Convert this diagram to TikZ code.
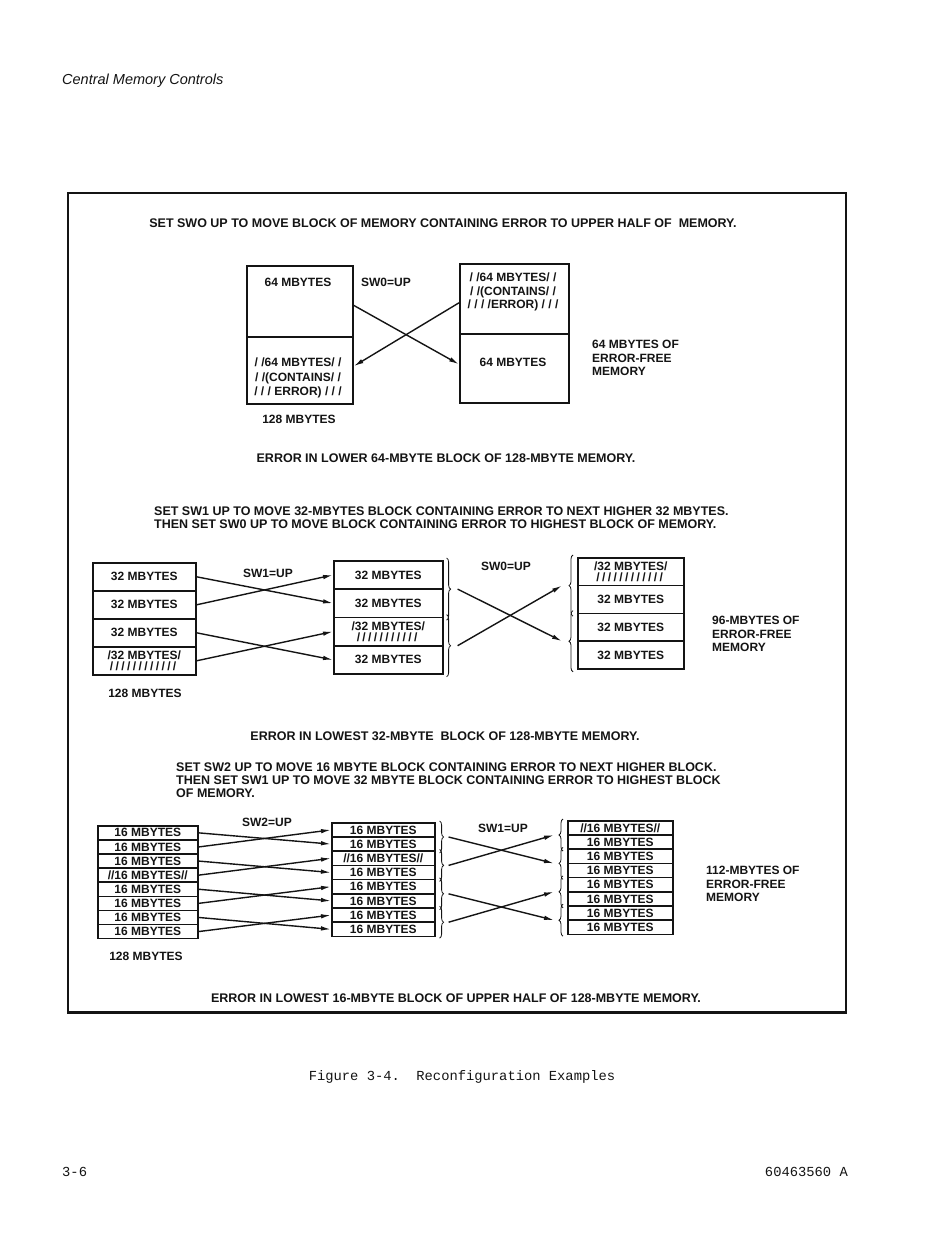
\documentclass[tikz,border=0pt]{standalone}
\usepackage{fontspec}
\setmainfont{Liberation Sans}
\newfontfamily\typefont{Liberation Mono}
\usetikzlibrary{arrows.meta,positioning,calc,decorations.pathreplacing}
\definecolor{ink}{HTML}{141414}
\definecolor{paper}{HTML}{FFFFFF}
\newcommand\hatch[1]{\foreach\n in {1,...,#1}{/\kern2.4pt}\unskip}

\tikzset{
  cell/.style={draw=ink,line width=1.6pt,anchor=north west,inner sep=0pt,
               text=ink,font=\bfseries\fontsize{12}{11.5}\selectfont,align=center},
  txt/.style={text=ink,inner sep=0pt,font=\bfseries\fontsize{12}{13.5}\selectfont,align=center},
  head/.style={txt,font=\bfseries\fontsize{12.5}{13}\selectfont},
  note/.style={txt,align=left,anchor=west},
  move/.style={draw=ink,line width=1.4pt,-{Latex[length=10pt,width=4.5pt]}},
  grp/.style={draw=ink,line width=0.8pt,decorate,decoration={brace,amplitude=4pt}},
}

\begin{document}
\begin{tikzpicture}[x=1pt,y=-1pt]
 \useasboundingbox[fill=paper] (0,0) rectangle (950,1236);

 % page head, frame, caption and foot
 \node[anchor=west,inner sep=0pt,text=ink,font=\itshape\fontsize{14.5}{16}\selectfont]
   (head) at (62,81) {Central Memory Controls};
 \node[draw=ink,line width=1.5pt,anchor=north west,inner sep=0pt,
       minimum width=778pt,minimum height=819pt] (frame) at (67,192) {};
 \draw[ink,line width=2.5pt] (frame.south west) -- (frame.south east);
 \node[inner sep=0pt,text=ink,font=\typefont\fontsize{13.8}{15}\selectfont]
   (cap) at (462,1077) {Figure 3-4.\ \ Reconfiguration Examples};
 \node[anchor=west,inner sep=0pt,text=ink,font=\typefont\fontsize{13.8}{15}\selectfont]
   (pgno) at (62,1172) {3-6};
 \node[anchor=east,inner sep=0pt,text=ink,font=\typefont\fontsize{13.8}{15}\selectfont]
   (docno) at (848,1172) {60463560 A};

 % --- 64-mbyte example
 \node[head] (t1) at (443,223) {SET SWO UP TO MOVE BLOCK OF MEMORY CONTAINING ERROR TO UPPER HALF OF\ \ MEMORY.};
 \node[cell,minimum width=106pt,minimum height=71pt] (ma1) at (246,265) {};
 \node[cell,minimum width=106pt,minimum height=67pt] (ma2) at (246,336) {};
 \node[cell,minimum width=109pt,minimum height=70pt] (mb1) at (459,263) {};
 \node[cell,minimum width=109pt,minimum height=69pt] (mb2) at (459,333) {};
 \node[txt] (ma1t) at (298,282) {64 MBYTES};
 \node[txt,font=\bfseries\fontsize{12}{14.5}\selectfont] (ma2t) at (298,378)
   {/ /64 MBYTES/ /\\/ /(CONTAINS/ /\\/ / / ERROR) / / /};
 \node[txt,font=\bfseries\fontsize{12}{13.5}\selectfont] (mb1t) at (513,292)
   {/ /64 MBYTES/ /\\/ /(CONTAINS/ /\\/ / / /ERROR) / / /};
 \node[txt] (mb2t) at (513,362) {64 MBYTES};
 \node[txt] (sw0a) at (386,282) {SW0=UP};
 \node[txt] (ma) at (299,419) {128 MBYTES};
 \node[note] (free1) at (592,358) {64 MBYTES OF\\ERROR-FREE\\MEMORY};
 \node[head] (e1) at (446,458) {ERROR IN LOWER 64-MBYTE BLOCK OF 128-MBYTE MEMORY.};
 \draw[move] ([yshift=-4pt]ma1.east) -- ([yshift=4pt]mb2.west);
 \draw[move] ([yshift=-4pt]mb1.west) -- ([yshift=4pt]ma2.east);

 % --- 32-mbyte example
 \node[head,anchor=north west,align=left] (t2) at (154,507)
   {SET SW1 UP TO MOVE 32-MBYTES BLOCK CONTAINING ERROR TO NEXT HIGHER 32 MBYTES.\\
    THEN SET SW0 UP TO MOVE BLOCK CONTAINING ERROR TO HIGHEST BLOCK OF MEMORY.};
 \foreach \t [count=\i] in {32 MBYTES,32 MBYTES,32 MBYTES,{/32 MBYTES/\\\hatch{12}}}
   \node[cell,minimum width=103pt,minimum height=28pt] (sa\i) at (92,{562+28*(\i-1)}) {\t};
 \foreach \t [count=\i] in {32 MBYTES,32 MBYTES,{/32 MBYTES/\\\hatch{11}},32 MBYTES}
   \node[cell,minimum width=109pt,minimum height=28.3pt] (sb\i) at (333,{560+28.3*(\i-1)}) {\t};
 \foreach \t [count=\i] in {{/32 MBYTES/\\\hatch{12}},32 MBYTES,32 MBYTES,32 MBYTES}
   \node[cell,minimum width=106pt,minimum height=27.8pt] (sc\i) at (577,{557+27.8*(\i-1)}) {\t};
 \node[txt] (sw1b) at (268,573) {SW1=UP};
 \node[txt] (sw0b) at (506,566) {SW0=UP};
 \node[txt] (sa) at (145,693) {128 MBYTES};
 \node[note] (free2) at (712,634) {96-MBYTES OF\\ERROR-FREE\\MEMORY};
 \node[head] (e2) at (445,736) {ERROR IN LOWEST 32-MBYTE\ \ BLOCK OF 128-MBYTE MEMORY.};
 \draw[move] (sa1.east) -- (sb2.west);
 \draw[move] (sa2.east) -- (sb1.west);
 \draw[move] (sa3.east) -- (sb4.west);
 \draw[move] (sa4.east) -- (sb3.west);
 \foreach \a/\b [count=\k] in {1/2,3/4}{
   \draw[grp] ([xshift=3pt,yshift=2pt]sb\a.north east) -- ([xshift=3pt,yshift=-2pt]sb\b.south east)
     coordinate[midway,xshift=11pt] (sbg\k);
   \draw[grp] ([xshift=-4pt,yshift=-2pt]sc\b.south west) -- ([xshift=-4pt,yshift=2pt]sc\a.north west)
     coordinate[midway,xshift=-11pt] (scg\k);
 }
 \draw[move] (sbg1) -- (scg2);
 \draw[move] (sbg2) -- (scg1);

 % --- 16-mbyte example
 \node[head,anchor=north west,align=left] (t3) at (176,763)
   {SET SW2 UP TO MOVE 16 MBYTE BLOCK CONTAINING ERROR TO NEXT HIGHER BLOCK.\\
    THEN SET SW1 UP TO MOVE 32 MBYTE BLOCK CONTAINING ERROR TO HIGHEST BLOCK\\
    OF MEMORY.};
 \foreach \t [count=\i] in {16 MBYTES,16 MBYTES,16 MBYTES,//16 MBYTES//,
                            16 MBYTES,16 MBYTES,16 MBYTES,16 MBYTES}
   \node[cell,minimum width=100pt,minimum height=14.1pt] (ta\i) at (97,{825+14.1*(\i-1)}) {\t};
 \foreach \t [count=\i] in {16 MBYTES,16 MBYTES,//16 MBYTES//,16 MBYTES,
                            16 MBYTES,16 MBYTES,16 MBYTES,16 MBYTES}
   \node[cell,minimum width=103pt,minimum height=14.2pt] (tb\i) at (331,{822+14.2*(\i-1)}) {\t};
 \foreach \t [count=\i] in {//16 MBYTES//,16 MBYTES,16 MBYTES,16 MBYTES,
                            16 MBYTES,16 MBYTES,16 MBYTES,16 MBYTES}
   \node[cell,minimum width=105pt,minimum height=14.2pt] (tc\i) at (567,{820+14.2*(\i-1)}) {\t};
 \node[txt] (sw2c) at (267,822) {SW2=UP};
 \node[txt] (sw1c) at (503,828) {SW1=UP};
 \node[txt] (ta) at (146,956) {128 MBYTES};
 \node[note] (free3) at (706,884) {112-MBYTES OF\\ERROR-FREE\\MEMORY};
 \node[head] (e3) at (456,998) {ERROR IN LOWEST 16-MBYTE BLOCK OF UPPER HALF OF 128-MBYTE MEMORY.};
 \foreach \a/\b in {1/2,3/4,5/6,7/8}{
   \draw[move] (ta\a.east) -- (tb\b.west);
   \draw[move] (ta\b.east) -- (tb\a.west);
 }
 \foreach \a/\b [count=\k] in {1/2,3/4,5/6,7/8}{
   \draw[grp] ([xshift=4pt,yshift=1pt]tb\a.north east) -- ([xshift=4pt,yshift=-1pt]tb\b.south east)
     coordinate[midway,xshift=9pt] (tbg\k);
   \draw[grp] ([xshift=-4pt,yshift=-1pt]tc\b.south west) -- ([xshift=-4pt,yshift=1pt]tc\a.north west)
     coordinate[midway,xshift=-9pt] (tcg\k);
 }
 \draw[move] (tbg1) -- (tcg2);
 \draw[move] (tbg2) -- (tcg1);
 \draw[move] (tbg3) -- (tcg4);
 \draw[move] (tbg4) -- (tcg3);
\end{tikzpicture}
\end{document}
